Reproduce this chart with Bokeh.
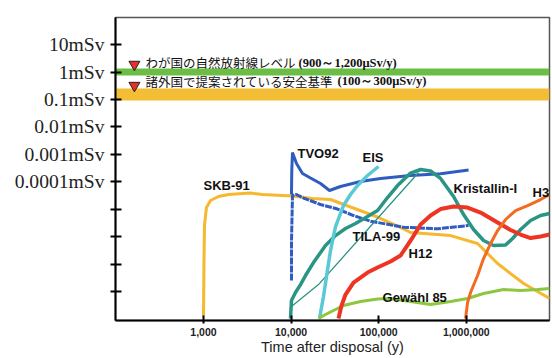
from bokeh.plotting import figure
from bokeh.models import Range1d, FixedTicker, NumeralTickFormatter, BoxAnnotation, Label, ColumnDataSource
from bokeh.core.properties import value
from bokeh.embed import file_html
from bokeh.resources import INLINE

# ---- data (time in years, dose in mSv/y) ----
skb_t = [1000, 1013, 1026, 1081, 1202, 1483, 1930, 3440, 4720, 10380, 17540, 28180, 47640,
         96850, 164000, 230700, 660700, 1343000, 2275000, 4508000, 8930000]
skb_d = [1.21e-9, 1.34e-7, 2.54e-6, 1.15e-5, 2.07e-5, 2.90e-5, 3.43e-5, 3.89e-5, 3.43e-5, 3.02e-5,
         2.45e-5, 2.25e-5, 1.20e-5, 5.18e-6, 2.43e-6, 1.41e-6, 1.09e-6, 5.58e-7, 1.04e-7, 1.94e-8, 5.51e-9]

tvo_t = [10100, 10180, 10370, 11520, 13490, 16650, 21660, 27440, 36640, 61990, 104900, 230800, 508200, 1061000]
tvo_d = [3.43e-5, 2.57e-4, 1.17e-3, 4.63e-4, 2.0e-4, 1.37e-4, 8.63e-5, 4.80e-5, 6.71e-5, 1.02e-4,
         1.32e-4, 1.69e-4, 1.95e-4, 2.69e-4]

tila_t = [10100, 10110, 10370, 11520, 13850, 21660, 33860, 51570, 80630, 192100, 469500, 1061000]
tila_d = [2.49e-8, 7.19e-7, 3.15e-5, 3.43e-5, 2.55e-5, 1.48e-5, 1.01e-5, 5.87e-6, 3.64e-6, 2.20e-6, 1.92e-6, 2.54e-6]

eis_t = [21090, 23430, 25360, 28170, 32130, 39650, 47650, 57300, 74530, 99520]
eis_d = [1.03e-9, 6.52e-9, 3.49e-8, 3.10e-7, 2.33e-6, 1.36e-5, 3.43e-5, 7.29e-5, 1.69e-4, 3.60e-4]

kri_t = [9840, 10100, 11220, 12800, 14600, 18010, 24700, 32130, 41780, 54350, 74530, 96940, 126100,
         164000, 230800, 300300, 390700, 508200, 715000, 930000, 1210000, 1573000, 2047000, 2806000,
         3373000, 4163000, 5415000, 7044000, 8920000]
kri_d = [1.03e-9, 4.66e-9, 9.12e-9, 1.78e-8, 3.80e-8, 1.13e-7, 4.72e-7, 1.09e-6, 1.97e-6, 3.0e-6,
         5.40e-6, 8.93e-6, 2.66e-5, 7.29e-5, 2.08e-4, 2.80e-4, 2.47e-4, 1.32e-4, 2.90e-5, 6.38e-6,
         1.81e-6, 7.19e-7, 4.72e-7, 4.92e-7, 8.51e-7, 1.81e-6, 3.85e-6, 5.87e-6, 6.95e-6]

kri2_t = [10100, 20540, 284900]
kri2_d = [2.81e-9, 1.78e-8, 2.18e-4]

h12_t = [34760, 37620, 41780, 51570, 74530, 96940, 136400, 177500, 207800, 243400, 300300, 390700,
         508200, 715000, 1033000, 1454000, 2274000, 3200000, 4163000, 5415000, 7044000, 8920000]
h12_d = [1.03e-9, 3.05e-9, 7.71e-9, 2.11e-8, 4.89e-8, 7.45e-8, 1.23e-7, 2.04e-7, 4.34e-7, 9.25e-7,
         2.75e-6, 5.87e-6, 1.01e-5, 1.25e-5, 1.15e-5, 7.55e-6, 3.26e-6, 1.74e-6, 1.19e-6, 8.87e-7, 1.01e-6, 1.19e-6]

h3_t = [980400, 1033000, 1118000, 1344000, 1573000, 1892000, 2274000, 2806000, 3650000, 5005000, 7044000, 8920000]
h3_d = [1.03e-9, 3.94e-9, 9.12e-9, 3.80e-8, 1.58e-7, 5.58e-7, 1.66e-6, 4.20e-6, 8.93e-6, 1.36e-5, 2.25e-5, 3.43e-5]

gew_t = [20540, 24700, 30480, 39650, 61990, 96940, 136400, 230800, 390700, 660700, 1033000,
         1573000, 2662000, 4163000, 6510000, 8920000]
gew_d = [1.03e-9, 1.44e-9, 2.01e-9, 3.05e-9, 4.28e-9, 5.27e-9, 5.51e-9, 4.28e-9, 3.33e-9, 4.28e-9,
         5.51e-9, 8.38e-9, 1.17e-8, 1.08e-8, 1.17e-8, 1.28e-8]

curve_names = ["SKB-91", "TVO92", "EIS", "Kristallin-I", "H3", "TILA-99", "H12", "Gewähl 85"]
name_t = [1000, 11830, 65350, 715000, 5710000, 50230, 219000, 110600]
name_d = [7.3e-5, 1.07e-3, 7.67e-4, 5.67e-5, 4.06e-5, 1.01e-6, 2.41e-7, 5.98e-9]

natural_band = [0.75, 1.36]      # mSv
foreign_band = [0.092, 0.25]     # mSv
band_texts = ["わが国の自然放射線レベル", "諸外国で提案されている安全基準"]
band_ranges = ["(900～1,200μSv/y)", "(100～300μSv/y)"]

y_ticks = [10.0, 1.0, 0.1, 0.01, 0.001, 0.0001, 1e-5, 1e-6, 1e-7, 1e-8]
y_labels = ["10mSv", "1mSv", "0.1mSv", "0.01mSv", "0.001mSv", "0.0001mSv", "", "", "", ""]
x_ticks = [1000, 10000, 100000, 1000000]
x_title = "Time after disposal (y)"

# ---- figure ----
p = figure(width=552, height=358, x_axis_type="log", y_axis_type="log",
           x_range=Range1d(99, 8.9e6), y_range=Range1d(8.7e-10, 98),
           output_backend="svg", toolbar_location=None,
           min_border_left=115, min_border_right=3, min_border_top=17, min_border_bottom=38)
p.xgrid.visible = False
p.ygrid.visible = False
p.outline_line_color = "#555555"
p.outline_line_width = 1.5

p.add_layout(BoxAnnotation(bottom=natural_band[0], top=natural_band[1], fill_color="#6CBD45",
                           fill_alpha=1, line_alpha=0, level="underlay"))
p.add_layout(BoxAnnotation(bottom=foreign_band[0], top=foreign_band[1], fill_color="#F3BD35",
                           fill_alpha=1, line_alpha=0, level="underlay"))

p.line(skb_t, skb_d, line_color="#F5B82E", line_width=3)
p.line(tila_t, tila_d, line_color="#2F5CC0", line_width=3, line_dash="7 1")
p.line(tvo_t, tvo_d, line_color="#2F5CC0", line_width=3)
p.line(kri2_t, kri2_d, line_color="#2A9485", line_width=1.3)
p.line(kri_t, kri_d, line_color="#2A9485", line_width=3.5)
p.line(eis_t, eis_d, line_color="#5BC8D6", line_width=3.5)
p.line(gew_t, gew_d, line_color="#8DC63F", line_width=3)
p.line(h12_t, h12_d, line_color="#EE3524", line_width=4)
p.line(h3_t, h3_d, line_color="#F26B21", line_width=3)

src = ColumnDataSource(dict(x=name_t, y=name_d, text=curve_names))
p.text(x="x", y="y", text="text", source=src, text_font=value("Liberation Sans"),
       text_font_style="bold", text_font_size="13px", text_color="#111111",
       text_align="left", text_baseline="middle")

# band annotations
p.scatter([162.8, 162.8], [1.90, 0.324], marker="inverted_triangle", size=11,
          fill_color="#E8302A", line_color="#222222", line_width=1)
for yy, jt, rt, xr in zip([2.15, 0.454], band_texts, band_ranges, [12140, 33860]):
    p.add_layout(Label(x=217.3, y=yy, text=jt, text_font="Noto Sans CJK JP", text_font_size="12.5px",
                       text_color="#111111", text_baseline="middle", text_align="left"))
    p.add_layout(Label(x=xr, y=yy, text=rt, text_font="Liberation Serif", text_font_style="bold",
                       text_font_size="12.5px", text_color="#111111", text_baseline="middle", text_align="left"))

# axes
yax = p.yaxis[0]
yax.ticker = FixedTicker(ticks=y_ticks)
yax.major_label_overrides = {t: l for t, l in zip(y_ticks, y_labels)}
yax.major_label_text_font = "Liberation Serif"
yax.major_label_text_font_size = "19.6px"
yax.major_label_text_color = "#222222"
yax.major_label_standoff = 6
yax.major_tick_in = 6
yax.major_tick_out = 5
yax.major_tick_line_width = 2
yax.minor_tick_line_color = None
yax.axis_line_width = 2
yax.axis_line_color = "black"

xax = p.xaxis[0]
xax.ticker = FixedTicker(ticks=x_ticks)
xax.formatter = NumeralTickFormatter(format="0,0")
xax.major_label_text_font = "Liberation Sans"
xax.major_label_text_font_style = "bold"
xax.major_label_text_font_size = "10.5px"
xax.major_label_text_color = "#222222"
xax.major_label_standoff = 4
xax.major_tick_in = 5
xax.major_tick_out = 3
xax.major_tick_line_width = 2
xax.minor_tick_line_color = None
xax.axis_line_width = 2
xax.axis_line_color = "black"
xax.axis_label = x_title
xax.axis_label_standoff = 0
xax.axis_label_text_font = "Liberation Sans"
xax.axis_label_text_font_style = "normal"
xax.axis_label_text_font_size = "14.5px"
xax.axis_label_text_color = "#222222"

open("out.html", "w").write(file_html(p, INLINE))
